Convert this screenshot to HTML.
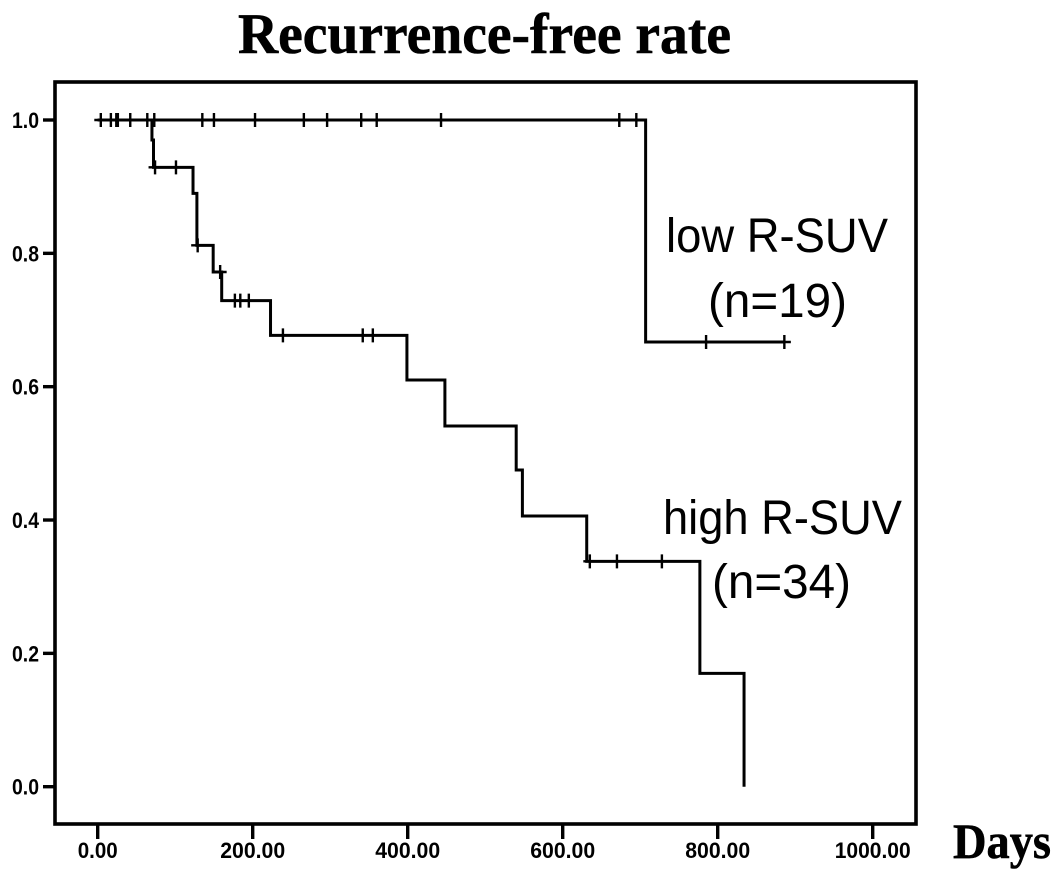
<!DOCTYPE html>
<html lang="en">
<head>
<meta charset="utf-8">
<title>Recurrence-free rate</title>
<style>
html,body{margin:0;padding:0;background:#fff;width:1063px;height:877px;overflow:hidden}
svg{display:block}
.tick{font-family:"Liberation Sans",sans-serif;font-weight:bold;font-size:22px;fill:#000}
.label{font-family:"Liberation Sans",sans-serif;font-size:48px;fill:#000}
.head{font-family:"Liberation Serif",serif;font-weight:bold;fill:#000;stroke:#000;stroke-width:0.6px}
</style>
</head>
<body>
<svg id="chart" xmlns="http://www.w3.org/2000/svg" width="1063" height="877" viewBox="0 0 1063 877">
  <rect x="0" y="0" width="1063" height="877" fill="#fff"></rect>
  <text class="head" x="238" y="53" font-size="57" textLength="493" lengthAdjust="spacingAndGlyphs">Recurrence-free rate</text>
  <rect x="55" y="82" width="861" height="742" fill="none" stroke="#000" stroke-width="3.6"></rect>
  <g id="axes"></g>
  <g id="series"></g>
  <text class="label" x="666" y="252" textLength="222" lengthAdjust="spacingAndGlyphs">low R-SUV</text>
  <text class="label" x="708" y="317" textLength="139" lengthAdjust="spacingAndGlyphs">(n=19)</text>
  <text class="label" x="663" y="534" textLength="239" lengthAdjust="spacingAndGlyphs">high R-SUV</text>
  <text class="label" x="712" y="598" textLength="139" lengthAdjust="spacingAndGlyphs">(n=34)</text>
  <text class="head" x="953" y="858" font-size="50" textLength="98" lengthAdjust="spacingAndGlyphs">Days</text>
</svg>
<script>
var xTicks = [0, 200, 400, 600, 800, 1000];
var xTickLabels = ["0.00", "200.00", "400.00", "600.00", "800.00", "1000.00"];
var yTicks = [0, 0.2, 0.4, 0.6, 0.8, 1.0];
var yTickLabels = ["0.0", "0.2", "0.4", "0.6", "0.8", "1.0"];

var lowStepDays = [0, 707];
var lowStepRates = [1.0, 0.667];
var lowEndDay = 886;
var lowCensorDays = [4, 17, 24, 26, 42, 64, 73, 135, 150, 203, 266, 296, 340, 360, 443, 673, 695, 785, 886];

var highStepDays = [0, 70, 72, 123, 128, 149, 160, 223, 399, 448, 540, 548, 631, 777, 834];
var highStepRates = [1.0, 0.97, 0.929, 0.89, 0.812, 0.772, 0.729, 0.677, 0.61, 0.541, 0.475, 0.406, 0.338, 0.17, 0];
var highEndDay = 834;
var highCensorDays = [74, 101, 129, 158, 177, 184, 195, 239, 342, 355, 635, 670, 728];

var NS = "http://www.w3.org/2000/svg";
function xPos(d) { return 97.7 + 0.775 * d; }
function yPos(v) { return 786.7 - 666.7 * v; }
function make(tag, attrs, parent) {
  var el = document.createElementNS(NS, tag);
  for (var k in attrs) { el.setAttribute(k, attrs[k]); }
  parent.appendChild(el);
  return el;
}
function rateAt(days, rates, d) {
  var r = rates[0];
  for (var i = 0; i < days.length; i++) { if (d >= days[i]) { r = rates[i]; } }
  return r;
}
function stepPath(days, rates, endDay) {
  var p = "M" + xPos(days[0]) + " " + yPos(rates[0]);
  for (var i = 1; i < days.length; i++) {
    p += "H" + xPos(days[i]) + "V" + yPos(rates[i]);
  }
  p += "H" + xPos(endDay);
  return p;
}

var axes = document.getElementById("axes");
var series = document.getElementById("series");

xTicks.forEach(function (t, i) {
  var line = make("line", {x1: xPos(t), x2: xPos(t), y1: 824, y2: 839, stroke: "#000", "stroke-width": 3.4}, axes);
  
  
  var w = xTickLabels[i].length === 4 ? 40 : (xTickLabels[i].length === 6 ? 65 : 76);
  var txt = make("text", {"class": "tick", x: xPos(t), y: 858, "text-anchor": "middle", textLength: w, lengthAdjust: "spacingAndGlyphs"}, axes);
  
  
  txt.textContent = xTickLabels[i];
});

yTicks.forEach(function (t, i) {
  var line = make("line", {x1: 43, x2: 55, y1: yPos(t), y2: yPos(t), stroke: "#000", "stroke-width": 3.4}, axes);
  
  
  var txt = make("text", {"class": "tick", x: 12, y: yPos(t) + 8, textLength: 27, lengthAdjust: "spacingAndGlyphs"}, axes);
  
  
  txt.textContent = yTickLabels[i];
});

function drawSeries(name, days, rates, endDay, censors) {
  var path = make("path", {d: stepPath(days, rates, endDay), fill: "none", stroke: "#000", "stroke-width": 3, "stroke-linejoin": "miter"}, series);
  
  
  censors.forEach(function (d) {
    var cx = xPos(d), cy = yPos(rateAt(days, rates, d));
    var mark = make("path", {d: "M" + (cx - 6.5) + " " + cy + "H" + (cx + 6.5) + "M" + cx + " " + (cy - 7) + "V" + (cy + 7), fill: "none", stroke: "#000", "stroke-width": 2.4}, series);
    
    
  });
}
drawSeries("low", lowStepDays, lowStepRates, lowEndDay, lowCensorDays);
drawSeries("high", highStepDays, highStepRates, highEndDay, highCensorDays);
</script>
</body>
</html>
